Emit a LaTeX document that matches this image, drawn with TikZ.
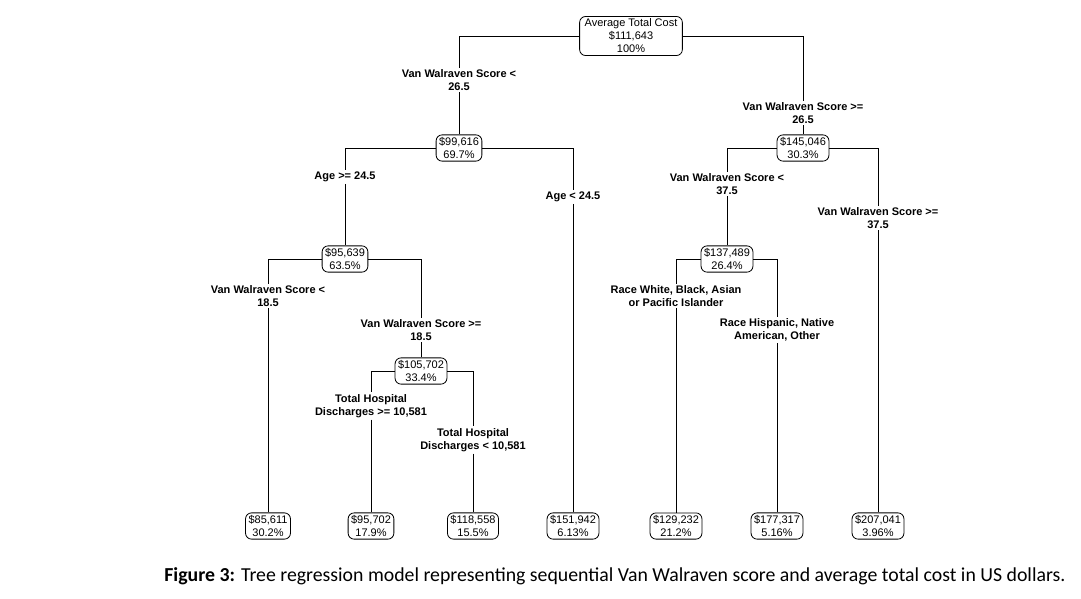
\documentclass[tikz,border=0pt]{standalone}
\usepackage{fontspec}
\setmainfont{Liberation Sans}
\newfontfamily\capfont{Carlito}
\begin{document}
\begin{tikzpicture}[x=1pt, y=-1pt, line width=0.8pt,
  every node/.style={font=\fontsize{11}{13}\selectfont, align=center},
  costbox/.style={draw, rounded corners=6pt, inner xsep=3pt, inner ysep=2.5pt},
  splitlab/.style={font=\fontsize{11}{13}\selectfont\bfseries, inner sep=1.5pt}]
  \useasboundingbox (0,0) rectangle (1081,598);
  \node[costbox, inner xsep=5pt] (root) at (631,36) {Average Total Cost\\\$111,643\\100\%};
  \node[splitlab] (l1) at (459,80) {Van Walraven Score <\\26.5};
  \node[splitlab] (r1) at (803,113) {Van Walraven Score >=\\26.5};
  \node[costbox] (n2) at (459,148) {\$99,616\\69.7\%};
  \node[costbox] (n3) at (803,148) {\$145,046\\30.3\%};
  \node[splitlab] (l2) at (345,177) {Age >= 24.5};
  \node[splitlab] (r2) at (573,197) {Age < 24.5};
  \node[costbox] (n4) at (345,259) {\$95,639\\63.5\%};
  \node[splitlab] (l3) at (268,296) {Van Walraven Score <\\18.5};
  \node[splitlab] (r3) at (421,330) {Van Walraven Score >=\\18.5};
  \node[costbox] (n5) at (421,371) {\$105,702\\33.4\%};
  \node[splitlab] (l4) at (371,406) {Total Hospital\\Discharges >= 10,581};
  \node[splitlab] (r4) at (473,440) {Total Hospital\\Discharges < 10,581};
  \node[splitlab] (l5) at (727,184) {Van Walraven Score <\\37.5};
  \node[splitlab] (r5) at (878,218) {Van Walraven Score >=\\37.5};
  \node[costbox] (n6) at (727,259) {\$137,489\\26.4\%};
  \node[splitlab] (l6) at (676,296) {Race White, Black, Asian\\or Pacific Islander};
  \node[splitlab] (r6) at (777,330) {Race Hispanic, Native\\American, Other};
  \node[costbox] (leaf1) at (268,526) {\$85,611\\30.2\%};
  \node[costbox] (leaf2) at (371,526) {\$95,702\\17.9\%};
  \node[costbox] (leaf3) at (473,526) {\$118,558\\15.5\%};
  \node[costbox] (leaf4) at (573,526) {\$151,942\\6.13\%};
  \node[costbox] (leaf5) at (676,526) {\$129,232\\21.2\%};
  \node[costbox] (leaf6) at (777,526) {\$177,317\\5.16\%};
  \node[costbox] (leaf7) at (878,526) {\$207,041\\3.96\%};
  \draw (root.west) -| (l1.north) (l1.south) -- (n2.north);
  \draw (root.east) -| (r1.north) (r1.south) -- (n3.north);
  \draw (n2.west) -| (l2.north) (l2.south) -- (n4.north);
  \draw (n2.east) -| (r2.north) (r2.south) -- (leaf4.north);
  \draw (n4.west) -| (l3.north) (l3.south) -- (leaf1.north);
  \draw (n4.east) -| (r3.north) (r3.south) -- (n5.north);
  \draw (n5.west) -| (l4.north) (l4.south) -- (leaf2.north);
  \draw (n5.east) -| (r4.north) (r4.south) -- (leaf3.north);
  \draw (n3.west) -| (l5.north) (l5.south) -- (n6.north);
  \draw (n3.east) -| (r5.north) (r5.south) -- (leaf7.north);
  \draw (n6.west) -| (l6.north) (l6.south) -- (leaf5.north);
  \draw (n6.east) -| (r6.north) (r6.south) -- (leaf6.north);
  \node[anchor=west, inner sep=0pt, font=\capfont\fontsize{19.8}{22}\selectfont] (cap) at (164,576)
    {\textbf{Figure 3:} Tree regression model representing sequential Van Walraven score and average total cost in US dollars.};
\end{tikzpicture}
\end{document}
